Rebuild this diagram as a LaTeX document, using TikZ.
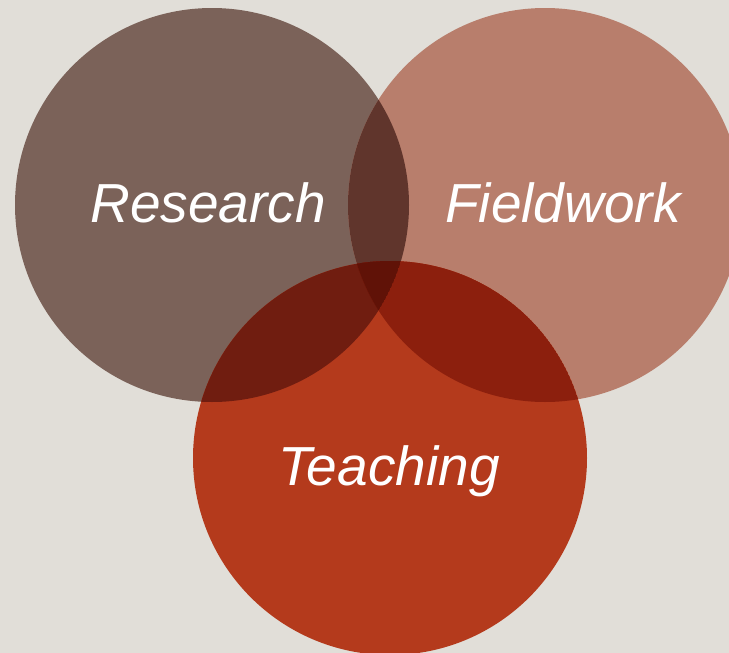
\documentclass[tikz,border=0pt]{standalone}
\usepackage{fontspec}
\setmainfont{Liberation Sans}
\definecolor{bg}{HTML}{E1DED8}
\definecolor{cres}{HTML}{7B6259}
\definecolor{cfield}{HTML}{B87E6C}
\definecolor{cteach}{HTML}{B43A1C}
\definecolor{crf}{HTML}{60352C}
\definecolor{crt}{HTML}{701D10}
\definecolor{cft}{HTML}{8C1F0D}
\definecolor{crft}{HTML}{601207}
\tikzset{
  lbl/.style={text=white, font=\fontsize{55}{64}\selectfont\itshape, anchor=base}
}
\def\circR{(212,205) circle (197)}
\def\circF{(545,205) circle (197)}
\def\circT{(390,458) circle (197)}
\begin{document}
\begin{tikzpicture}[x=1pt,y=-1pt]
\fill[bg] (0,0) rectangle (729,653);
\useasboundingbox (0,0) rectangle (729,653);
\fill[cres] \circR;
\fill[cfield] \circF;
\fill[cteach] \circT;
\begin{scope}
  \clip \circR;
  \fill[crf] \circF;
  \fill[crt] \circT;
  \clip \circF;
  \fill[crft] \circT;
\end{scope}
\begin{scope}
  \clip \circF;
  \clip \circT;
  \fill[cft] \circT;
  \clip \circR;
  \fill[crft] \circR;
\end{scope}
\node[lbl] (research) at (208,222) {Research};
\node[lbl] (fieldwork) at (563,222) {Fieldwork};
\node[lbl] (teaching) at (389,485) {Teaching};
\end{tikzpicture}
\end{document}
